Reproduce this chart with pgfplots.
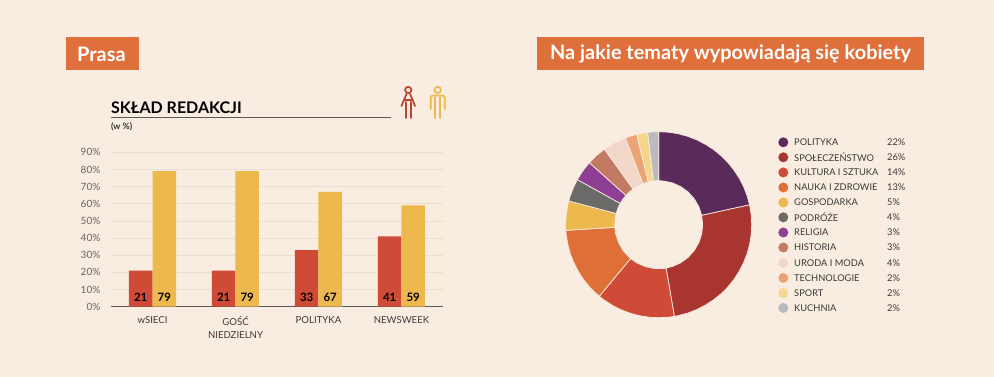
\documentclass[border=0pt]{standalone}
\usepackage{fontspec}
\setmainfont{Lato}
\usepackage{pgfplots}
\pgfplotsset{compat=1.18}
\usepgfplotslibrary{polar}
\definecolor{bg}{HTML}{F9ECE0}
\definecolor{hdr}{HTML}{E0703B}
\definecolor{cA}{HTML}{5A2A5A}
\definecolor{cB}{HTML}{A93530}
\definecolor{cC}{HTML}{CF4B38}
\definecolor{cD}{HTML}{DE7037}
\definecolor{cE}{HTML}{EDB84E}
\definecolor{cF}{HTML}{6A6A68}
\definecolor{cG}{HTML}{8F3F93}
\definecolor{cH}{HTML}{C27A63}
\definecolor{cI}{HTML}{F2D6C8}
\definecolor{cJ}{HTML}{E9A575}
\definecolor{cK}{HTML}{F5D68C}
\definecolor{cL}{HTML}{BABBBE}
\definecolor{txt}{HTML}{3A3A3A}
\begin{document}
\begin{tikzpicture}[x=1pt,y=1pt]
\fill[bg] (0,0) rectangle (994,377);
\begin{axis}[
  at={(111pt,70.3pt)}, anchor=south west, scale only axis,
  width=332pt, height=154.4pt,
  xmin=-0.5, xmax=3.5, ymin=0, ymax=90,
  ybar=0pt, bar width=23.5pt,
  axis x line=bottom, axis y line=left,
  x axis line style={-, draw=black!65, line width=1pt},
  y axis line style={draw=none},
  tick style={draw=none},
  ytick={0,10,...,90},
  yticklabel={\pgfmathprintnumber{\tick}\%},
  /pgf/number format/assume math mode=true,
  ymajorgrids, grid style={draw=black!6!bg, line width=.6pt},
  xtick={0,1,2,3},
  xticklabels={wSIECI,{GOŚĆ\\NIEDZIELNY},POLITYKA,NEWSWEEK},
  xticklabel style={align=center, font=\fontsize{9.6}{13}\selectfont, text=txt, anchor=north, yshift=-4pt},
  yticklabel style={font=\fontsize{10}{11}\selectfont, text=black!60, xshift=-5pt},
  clip=false,
]
\addplot[fill=cC, draw=none] coordinates {(0,21)(1,21)(2,33)(3,41)};
\addplot[fill=cE, draw=none] coordinates {(0,79)(1,79)(2,67)(3,59)};
\node[font=\fontsize{11.5}{12}\bfseries\selectfont, black] at (axis cs:0,5.2) [xshift=-11.75pt] {21};
\node[font=\fontsize{11.5}{12}\bfseries\selectfont, black] at (axis cs:0,5.2) [xshift=11.75pt] {79};
\node[font=\fontsize{11.5}{12}\bfseries\selectfont, black] at (axis cs:1,5.2) [xshift=-11.75pt] {21};
\node[font=\fontsize{11.5}{12}\bfseries\selectfont, black] at (axis cs:1,5.2) [xshift=11.75pt] {79};
\node[font=\fontsize{11.5}{12}\bfseries\selectfont, black] at (axis cs:2,5.2) [xshift=-11.75pt] {33};
\node[font=\fontsize{11.5}{12}\bfseries\selectfont, black] at (axis cs:2,5.2) [xshift=11.75pt] {67};
\node[font=\fontsize{11.5}{12}\bfseries\selectfont, black] at (axis cs:3,5.2) [xshift=-11.75pt] {41};
\node[font=\fontsize{11.5}{12}\bfseries\selectfont, black] at (axis cs:3,5.2) [xshift=11.75pt] {59};
\end{axis}
\begin{polaraxis}[
  at={(658.7pt,152.3pt)}, anchor=center, scale only axis,
  width=186pt, height=186pt, hide axis, ymin=0, ymax=93, clip=false,
  every axis plot/.append style={draw=bg, line width=.7pt, mark=none},
]
\addplot[fill=cA] coordinates {(90,93)(84,93)(78,93)(72,93)(66,93)(60,93)(54,93)(48,93)(42,93)(36,93)(30,93)(24,93)(18,93)(12.3,93)
 (12.3,44)(24,44)(36,44)(48,44)(60,44)(72,44)(84,44)(90,44)} --cycle;
\addplot[fill=cB] coordinates {(12.3,93)(6,93)(0,93)(-6,93)(-12,93)(-18,93)(-24,93)(-30,93)(-36,93)(-42,93)(-48,93)(-54,93)(-60,93)(-66,93)(-72,93)(-78,93)(-80.3,93)
 (-80.3,44)(-72,44)(-60,44)(-48,44)(-36,44)(-24,44)(-12,44)(0,44)(12.3,44)} --cycle;
\addplot[fill=cC] coordinates {(-80.3,93)(-84,93)(-90,93)(-96,93)(-102,93)(-108,93)(-114,93)(-120,93)(-126,93)(-129.7,93)
 (-129.7,44)(-120,44)(-108,44)(-96,44)(-84,44)(-80.3,44)} --cycle;
\addplot[fill=cD] coordinates {(-129.7,93)(-132,93)(-138,93)(-144,93)(-150,93)(-156,93)(-162,93)(-168,93)(-174,93)(-176.5,93)
 (-176.5,44)(-168,44)(-156,44)(-144,44)(-132,44)(-129.7,44)} --cycle;
\addplot[fill=cE] coordinates {(-176.5,93)(-180,93)(-186,93)(-192,93)(-194.8,93)(-194.8,44)(-186,44)(-176.5,44)} --cycle;
\addplot[fill=cF] coordinates {(-194.8,93)(-198,93)(-204,93)(-209,93)(-209,44)(-202,44)(-194.8,44)} --cycle;
\addplot[fill=cG] coordinates {(-209,93)(-215,93)(-221.8,93)(-221.8,44)(-215,44)(-209,44)} --cycle;
\addplot[fill=cH] coordinates {(-221.8,93)(-228,93)(-234.3,93)(-234.3,44)(-228,44)(-221.8,44)} --cycle;
\addplot[fill=cI] coordinates {(-234.3,93)(-240,93)(-245,93)(-249,93)(-249,44)(-242,44)(-234.3,44)} --cycle;
\addplot[fill=cJ] coordinates {(-249,93)(-253,93)(-256.3,93)(-256.3,44)(-253,44)(-249,44)} --cycle;
\addplot[fill=cK] coordinates {(-256.3,93)(-260,93)(-263.2,93)(-263.2,44)(-260,44)(-256.3,44)} --cycle;
\addplot[fill=cL] coordinates {(-263.2,93)(-267,93)(-270,93)(-270,44)(-267,44)(-263.2,44)} --cycle;
\end{polaraxis}
\begin{scope}[shift={(0,377)},yscale=-1]
\fill[hdr] (66,37) rectangle (139,70);
\node[white,font=\fontsize{20}{22}\bfseries\selectfont] at (101.5,54) {Prasa};
\fill[hdr] (537,37) rectangle (924,70);
\node[white,font=\fontsize{19.9}{22}\bfseries\selectfont] at (730.5,54) {Na jakie tematy wypowiadają się kobiety};
\node[anchor=base west,inner sep=0pt,font=\fontsize{16}{17}\bfseries\selectfont,black] at (111,114) {SKŁAD REDAKCJI};
\draw[black!65,line width=.9pt] (111,117.7) -- (391,117.7);
\node[anchor=west,inner sep=0pt,font=\fontsize{8.8}{10}\bfseries\selectfont,black!80] at (111,126.7) {(w \%)};
% icons
\begin{scope}[cC!90!black,line width=1.7pt,line cap=round,line join=round]
\draw (408.3,90) circle (3.2);
\draw (406.5,94) -- (401.5,106);
\draw (410.1,94) -- (415,106);
\draw (404,100) -- (412.6,100);
\draw (405.8,102) -- (405.8,118);
\draw (410.8,102) -- (410.8,118);
\end{scope}
\begin{scope}[cE,line width=1.7pt,line cap=round,line join=round]
\draw (437.7,90) circle (3.2);
\draw (430.8,109) -- (430.8,97) -- (432.5,95.5) -- (443,95.5) -- (444.7,97) -- (444.7,109);
\draw (435.2,97) -- (435.2,118);
\draw (440.2,97) -- (440.2,118);
\end{scope}
% legend
\foreach \c/\y/\l/\p in {cA/142.3/POLITYKA/22,cB/157.3/SPOŁECZEŃSTWO/26,cC/172.5/KULTURA I SZTUKA/14,cD/187.5/NAUKA I ZDROWIE/13,cE/202.5/GOSPODARKA/5,cF/217.3/PODRÓŻE/4,cG/232.5/RELIGIA/3,cH/247.5/HISTORIA/3,cI/263/URODA I MODA/4,cJ/278/TECHNOLOGIE/2,cK/293/SPORT/2,cL/308/KUCHNIA/2}{
  \fill[\c] (783.3,\y) circle (5);
  \node[anchor=west,inner sep=0pt,text=txt,font=\fontsize{9.3}{11}\selectfont] at (794,\y) {\l};
  \node[anchor=west,inner sep=0pt,text=txt,font=\fontsize{9.3}{11}\selectfont] at (887,\y) {\p\%};
}
\end{scope}
\end{tikzpicture}
\end{document}
